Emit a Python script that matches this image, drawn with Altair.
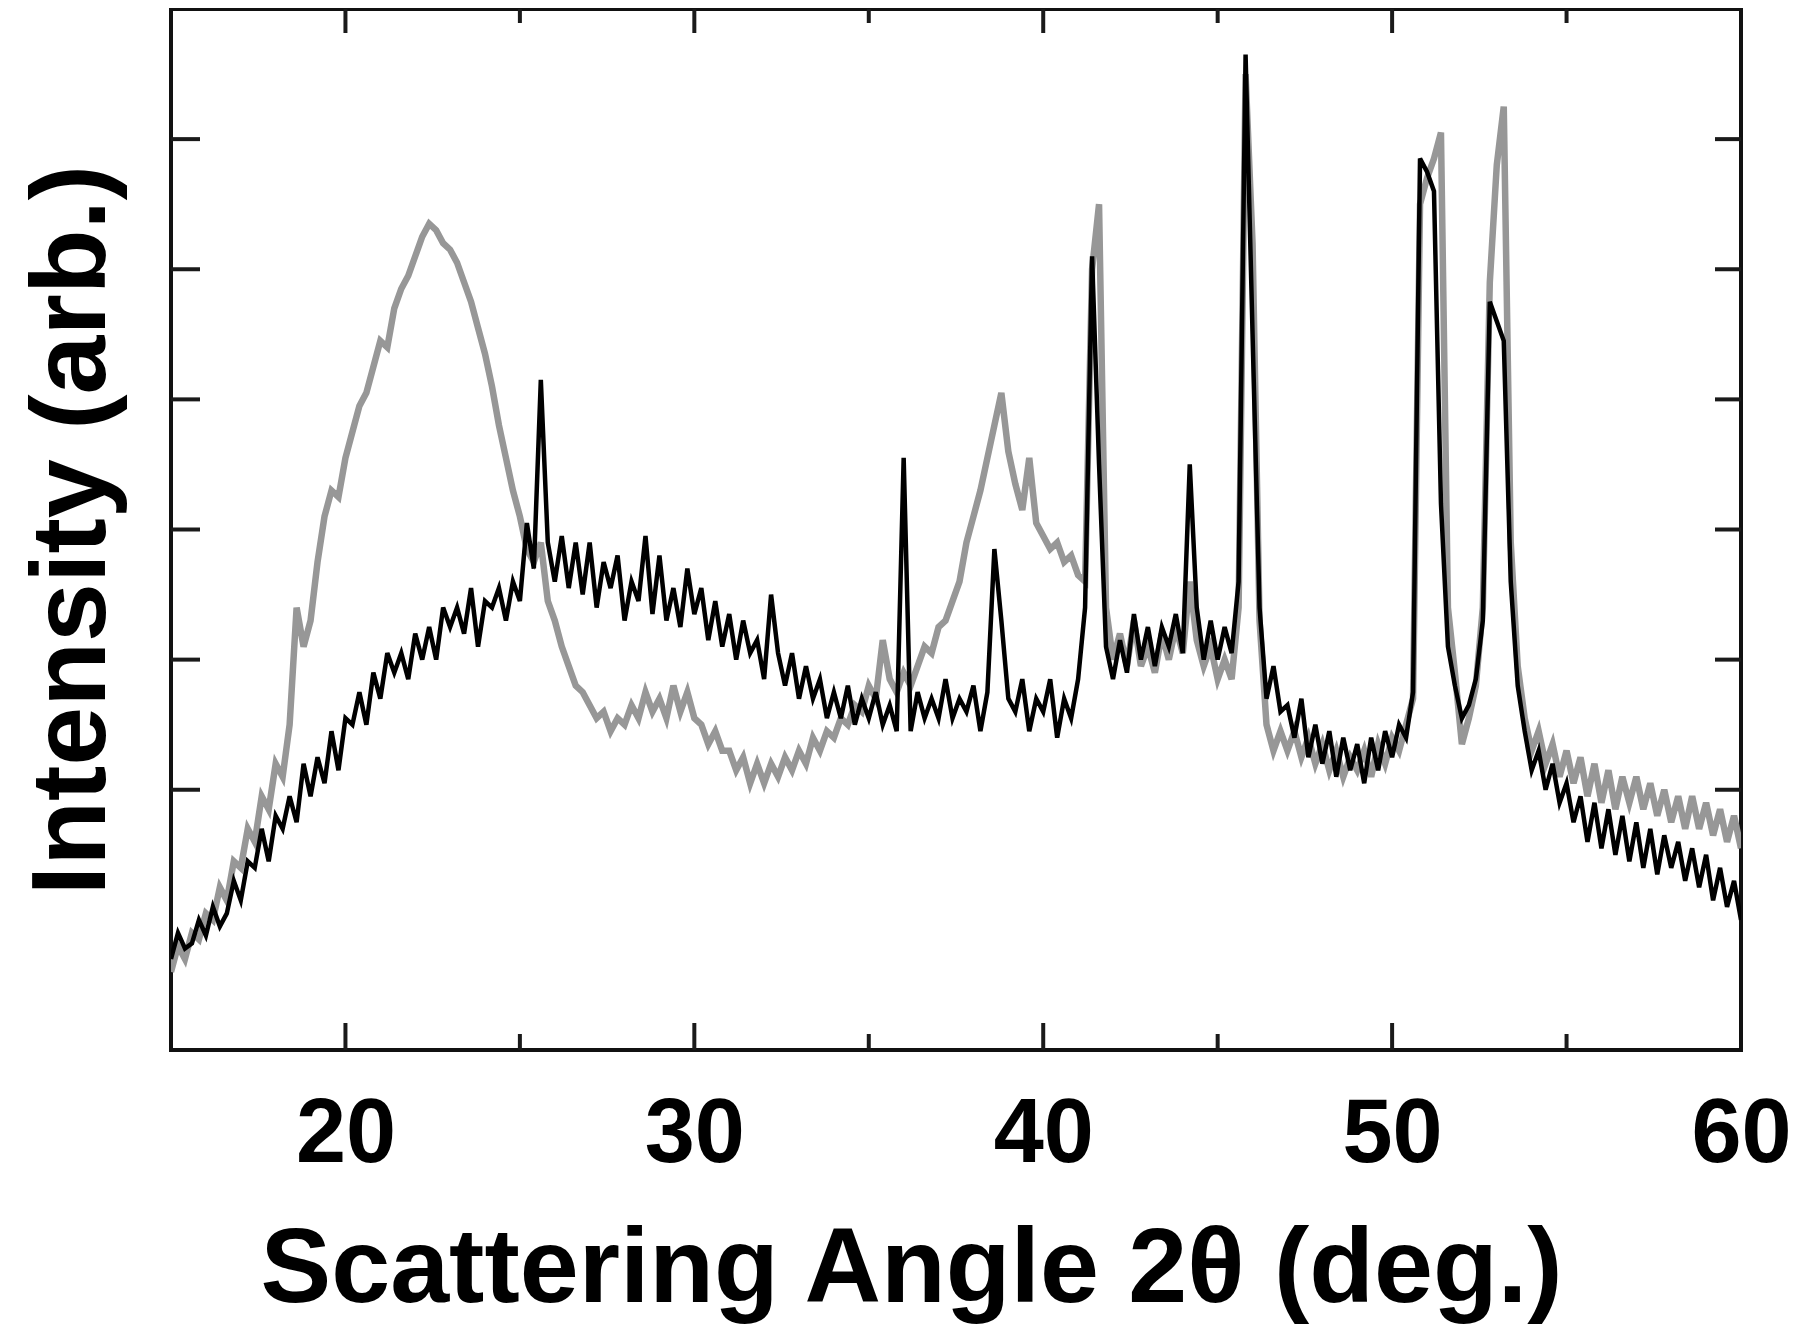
import altair as alt
import pandas as pd

# --- data (2-theta grid 15.0 .. 60.0, step 0.2) ---
ANGLE_START = 15.0
ANGLE_STEP = 0.2

black_vals = [
    0.70, 0.90, 0.78, 0.82, 1.00, 0.88, 1.10, 0.95, 1.05, 1.30,
    1.15, 1.45, 1.40, 1.70, 1.45, 1.80, 1.70, 1.95, 1.75, 2.20,
    1.95, 2.25, 2.05, 2.45, 2.15, 2.55, 2.50, 2.75, 2.50, 2.90,
    2.70, 3.05, 2.90, 3.05, 2.85, 3.20, 3.00, 3.25, 3.00, 3.40,
    3.25, 3.40, 3.20, 3.55, 3.10, 3.45, 3.40, 3.55, 3.30, 3.60,
    3.45, 4.05, 3.70, 5.15, 3.90, 3.60, 3.95, 3.55, 3.90, 3.50,
    3.90, 3.40, 3.75, 3.55, 3.80, 3.30, 3.60, 3.45, 3.95, 3.35,
    3.80, 3.30, 3.55, 3.25, 3.70, 3.35, 3.55, 3.15, 3.45, 3.10,
    3.35, 3.00, 3.30, 3.05, 3.15, 2.85, 3.50, 3.05, 2.80, 3.05,
    2.70, 2.95, 2.70, 2.85, 2.55, 2.75, 2.55, 2.80, 2.50, 2.70,
    2.55, 2.75, 2.50, 2.65, 2.45, 4.55, 2.45, 2.75, 2.55, 2.70,
    2.55, 2.85, 2.55, 2.70, 2.60, 2.80, 2.45, 2.75, 3.85, 3.30,
    2.70, 2.60, 2.85, 2.45, 2.70, 2.60, 2.85, 2.40, 2.70, 2.55,
    2.85, 3.40, 6.10, 4.50, 3.10, 2.85, 3.15, 2.90, 3.35, 3.00,
    3.25, 2.95, 3.25, 3.10, 3.35, 3.05, 4.50, 3.40, 3.00, 3.30,
    3.00, 3.25, 3.05, 3.60, 7.65, 5.50, 3.40, 2.70, 2.95, 2.60,
    2.65, 2.40, 2.70, 2.25, 2.50, 2.20, 2.45, 2.10, 2.40, 2.15,
    2.35, 2.05, 2.40, 2.15, 2.45, 2.25, 2.50, 2.40, 2.75, 6.85,
    6.75, 6.60, 4.20, 3.10, 2.80, 2.55, 2.65, 2.85, 3.30, 5.75,
    5.60, 5.45, 3.60, 2.80, 2.45, 2.15, 2.30, 2.00, 2.20, 1.90,
    2.05, 1.75, 1.95, 1.60, 1.90, 1.55, 1.85, 1.50, 1.80, 1.45,
    1.75, 1.40, 1.70, 1.35, 1.65, 1.40, 1.60, 1.30, 1.55, 1.25,
    1.50, 1.15, 1.40, 1.10, 1.30, 1.00,
]

gray_vals = [
    0.60, 0.80, 0.70, 0.90, 0.85, 1.05, 1.00, 1.25, 1.15, 1.45,
    1.40, 1.70, 1.60, 1.95, 1.85, 2.20, 2.10, 2.50, 3.40, 3.10,
    3.30, 3.75, 4.10, 4.30, 4.25, 4.55, 4.75, 4.95, 5.05, 5.25,
    5.45, 5.40, 5.70, 5.85, 5.95, 6.10, 6.25, 6.35, 6.30, 6.20,
    6.15, 6.05, 5.90, 5.75, 5.55, 5.35, 5.10, 4.80, 4.55, 4.30,
    4.10, 3.85, 3.75, 3.90, 3.45, 3.30, 3.10, 2.95, 2.80, 2.75,
    2.65, 2.55, 2.60, 2.45, 2.55, 2.50, 2.65, 2.55, 2.75, 2.60,
    2.70, 2.55, 2.80, 2.60, 2.75, 2.55, 2.50, 2.35, 2.45, 2.30,
    2.30, 2.15, 2.25, 2.05, 2.20, 2.05, 2.20, 2.10, 2.25, 2.15,
    2.30, 2.20, 2.40, 2.30, 2.45, 2.40, 2.55, 2.50, 2.65, 2.60,
    2.80, 2.70, 3.15, 2.85, 2.75, 2.90, 2.80, 2.95, 3.10, 3.05,
    3.25, 3.30, 3.45, 3.60, 3.90, 4.10, 4.30, 4.55, 4.80, 5.05,
    4.60, 4.35, 4.15, 4.55, 4.05, 3.95, 3.85, 3.90, 3.75, 3.80,
    3.65, 3.60, 6.00, 6.50, 3.40, 3.00, 3.20, 2.95, 3.30, 2.95,
    3.10, 2.90, 3.20, 3.00, 3.25, 3.05, 3.60, 3.15, 2.95, 3.10,
    2.85, 3.00, 2.85, 3.40, 7.50, 6.20, 3.30, 2.50, 2.30, 2.45,
    2.30, 2.45, 2.25, 2.40, 2.20, 2.35, 2.15, 2.30, 2.10, 2.25,
    2.15, 2.30, 2.10, 2.35, 2.20, 2.40, 2.30, 2.50, 2.70, 6.50,
    6.70, 6.85, 7.05, 3.40, 2.90, 2.35, 2.55, 2.80, 3.40, 5.90,
    6.80, 7.25, 3.90, 2.95, 2.55, 2.30, 2.45, 2.20, 2.35, 2.10,
    2.30, 2.05, 2.25, 1.95, 2.20, 1.90, 2.15, 1.85, 2.10, 1.90,
    2.10, 1.85, 2.05, 1.80, 2.00, 1.75, 1.95, 1.70, 1.95, 1.70,
    1.90, 1.65, 1.85, 1.60, 1.80, 1.55,
]

angles = [round(ANGLE_START + ANGLE_STEP * i, 1) for i in range(len(black_vals))]

x_label_values = [20, 30, 40, 50, 60]
x_major_ticks = [20, 30, 40, 50]
x_minor_ticks = [25, 35, 45, 55]
y_ticks = [2, 3, 4, 5, 6, 7]

X_DOMAIN = [15, 60]
Y_DOMAIN = [0, 8]

# --- layout / style ---
W = 1570
H = 1041
FONT = "Liberation Sans"
TICK_COLOR = "#1a1a1a"

df = pd.DataFrame({"angle": angles, "black": black_vals, "gray": gray_vals})
df_xmaj = pd.DataFrame({"angle": x_major_ticks})
df_xmin = pd.DataFrame({"angle": x_minor_ticks})
df_y = pd.DataFrame({"level": y_ticks})

xscale = alt.Scale(domain=X_DOMAIN, nice=False, zero=False)
yscale = alt.Scale(domain=Y_DOMAIN, nice=False, zero=False)

X_TITLE = "Scattering Angle 2θ (deg.)"
Y_TITLE = "Intensity (arb.)"

x_axis = alt.Axis(
    values=x_label_values,
    format="d",
    title=X_TITLE,
    labelFont=FONT,
    labelFontWeight="bold",
    labelFontSize=90,
    labelColor="black",
    labelPadding=40,
    labelFlush=False,
    labelOverlap=False,
    ticks=False,
    tickSize=0,
    domain=False,
    grid=False,
    titleFont=FONT,
    titleFontWeight="bold",
    titleFontSize=106,
    titleColor="black",
    titlePadding=38,
    titleX=740,
)

y_axis = alt.Axis(
    title=Y_TITLE,
    labels=False,
    ticks=False,
    tickSize=0,
    domain=False,
    grid=False,
    titleFont=FONT,
    titleFontWeight="bold",
    titleFontSize=106,
    titleColor="black",
    titlePadding=45,
)

rule_style = dict(color=TICK_COLOR, strokeWidth=4)

bottom_major = alt.Chart(df_xmaj).mark_rule(**rule_style).encode(
    x=alt.X("angle:Q", scale=xscale, axis=x_axis, title=X_TITLE),
    y=alt.value(H), y2=alt.value(H - 27),
)
bottom_minor = alt.Chart(df_xmin).mark_rule(**rule_style).encode(
    x=alt.X("angle:Q", scale=xscale, axis=x_axis, title=X_TITLE),
    y=alt.value(H), y2=alt.value(H - 16),
)
top_major = alt.Chart(df_xmaj).mark_rule(**rule_style).encode(
    x=alt.X("angle:Q", scale=xscale, axis=x_axis, title=X_TITLE),
    y=alt.value(0), y2=alt.value(24),
)
top_minor = alt.Chart(df_xmin).mark_rule(**rule_style).encode(
    x=alt.X("angle:Q", scale=xscale, axis=x_axis, title=X_TITLE),
    y=alt.value(0), y2=alt.value(14),
)
left_ticks = alt.Chart(df_y).mark_rule(**rule_style).encode(
    y=alt.Y("level:Q", scale=yscale, axis=y_axis, title=Y_TITLE),
    x=alt.value(0), x2=alt.value(29),
)
right_ticks = alt.Chart(df_y).mark_rule(**rule_style).encode(
    y=alt.Y("level:Q", scale=yscale, axis=y_axis, title=Y_TITLE),
    x=alt.value(W), x2=alt.value(W - 26),
)

gray_line = alt.Chart(df).mark_line(
    color="#979797", strokeWidth=6.5, clip=True, strokeJoin="miter"
).encode(
    x=alt.X("angle:Q", scale=xscale, axis=x_axis, title=X_TITLE),
    y=alt.Y("gray:Q", scale=yscale, axis=y_axis, title=Y_TITLE),
)
black_line = alt.Chart(df).mark_line(
    color="#000000", strokeWidth=4.5, clip=True, strokeJoin="miter"
).encode(
    x=alt.X("angle:Q", scale=xscale, axis=x_axis, title=X_TITLE),
    y=alt.Y("black:Q", scale=yscale, axis=y_axis, title=Y_TITLE),
)

chart = alt.layer(
    left_ticks, right_ticks, bottom_major, bottom_minor, top_major, top_minor,
    gray_line, black_line,
).properties(
    width=W,
    height=H,
    autosize=alt.AutoSizeParams(type="none"),
    padding={"left": 163, "top": 1, "right": 1784 - 163 - W, "bottom": 274},
    background="white",
).configure_view(
    stroke="#111111",
    strokeWidth=4,
)

chart.save("out.html", embed_options={"renderer": "svg", "actions": False})
